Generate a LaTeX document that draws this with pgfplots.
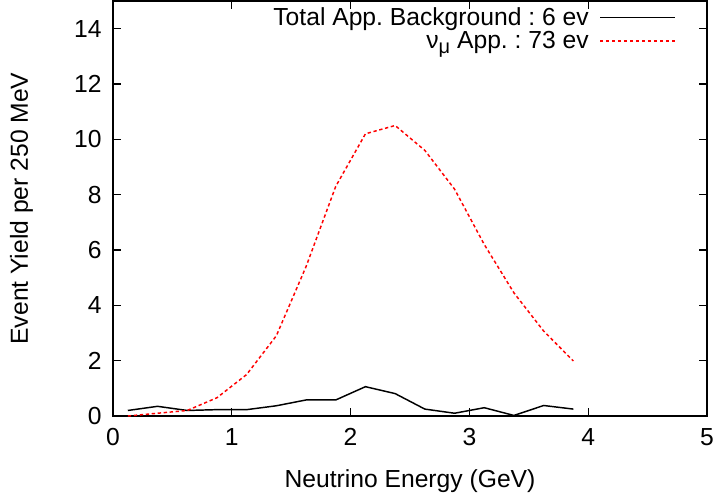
\documentclass[border=0pt]{standalone}
\usepackage{fontspec}
\setmainfont{Liberation Sans}
\usepackage{pgfplots}
\pgfplotsset{compat=1.18}
\frenchspacing

\begin{document}
\begin{tikzpicture}
\begin{axis}[
    scale only axis,
    width=445.5pt,
    height=311.25pt,
    xmin=0, xmax=5,
    ymin=0, ymax=15,
    xtick={0,1,2,3,4,5},
    ytick={0,2,4,6,8,10,12,14},
    tick align=inside,
    major tick length=6pt,
    minor tick num=0,
    axis line style={line width=1.1pt},
    every tick/.style={line width=0.9pt, black},
    /pgf/number format/assume math mode=true,
    ticklabel style={font=\fontsize{18.5}{20}\selectfont},
    yticklabel style={xshift=-5pt},
    xticklabel style={yshift=-6pt},
    label style={font=\fontsize{18.5}{20}\selectfont},
    xlabel={Neutrino Energy (GeV)},
    ylabel={Event Yield per 250 MeV},
    xlabel style={yshift=-11pt},
    ylabel style={yshift=24pt},
    legend plot pos=right,
    legend cell align=right,
    legend style={draw=none, fill=none, at={(0.955,0.998)}, anchor=north east,
        font=\fontsize{18.5}{20}\selectfont, row sep=-1pt, column sep=6pt},
    legend image post style={xscale=3.3},
]
\addplot[black, line width=1.1pt] coordinates {
    (0.125,0.20) (0.375,0.35) (0.625,0.20) (0.875,0.23)
    (1.125,0.23) (1.375,0.37) (1.625,0.58) (1.875,0.58)
    (2.125,1.06) (2.375,0.81) (2.625,0.25) (2.875,0.10)
    (3.125,0.30) (3.375,0.02) (3.625,0.38) (3.875,0.25)
};
\addplot[red, line width=1.1pt, dash pattern=on 2.5pt off 2pt] coordinates {
    (0.125,0.00) (0.375,0.10) (0.625,0.20) (0.875,0.66)
    (1.125,1.50) (1.375,2.90) (1.625,5.40) (1.875,8.30)
    (2.125,10.20) (2.375,10.50) (2.625,9.60) (2.875,8.20)
    (3.125,6.20) (3.375,4.45) (3.625,3.07) (3.875,1.99)
};
\legend{Total App. Background : 6 ev, ν\raisebox{-0.35ex}{\fontsize{15}{16}\selectfont μ} App. : 73 ev}
\end{axis}
\pgfresetboundingbox
\path[use as bounding box] ([xshift=-84.75pt,yshift=-60.75pt]current axis.south west)
    rectangle ([xshift=6.75pt,yshift=0.75pt]current axis.north east);
\end{tikzpicture}
\end{document}
